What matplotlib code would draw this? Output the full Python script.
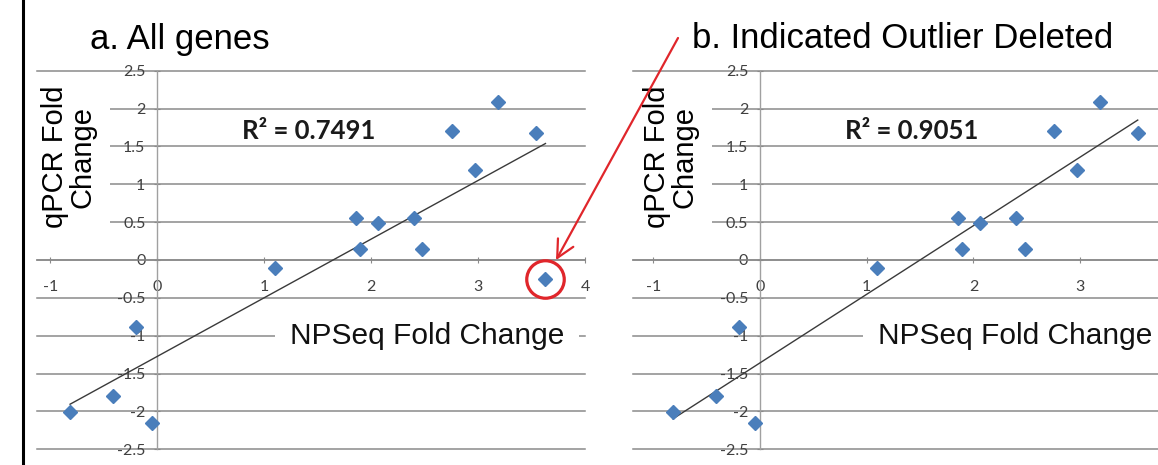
import matplotlib.pyplot as plt
from matplotlib.patches import ConnectionPatch
from matplotlib.lines import Line2D
import numpy as np

plt.rcParams['axes.unicode_minus'] = False

# NPSeq vs qPCR fold changes (last point = outlier)
npseq = [-0.815, -0.415, -0.195, -0.05, 1.097, 1.856, 1.896, 2.06, 2.40, 2.48,
         2.76, 2.97, 3.19, 3.54, 3.63]
qpcr = [-2.01, -1.80, -0.89, -2.15, -0.10, 0.56, 0.15, 0.486, 0.553, 0.15,
        1.70, 1.19, 2.085, 1.68, -0.256]
outlier = 14

y_ticks = [-2.5, -2, -1.5, -1, -0.5, 0, 0.5, 1, 1.5, 2, 2.5]
y_labels = ['-2.5', '-2', '-1.5', '-1', '-0.5', '0', '0.5', '1', '1.5', '2', '2.5']
x_ticks = [-1, 0, 1, 2, 3, 4]
x_labels = ['-1', '0', '1', '2', '3', '4']

titles = ['a. All genes', 'b. Indicated Outlier Deleted']
r2_labels = ['R\u00b2 = 0.7491', 'R\u00b2 = 0.9051']
ylabel = 'qPCR Fold\nChange'
xlabel = 'NPSeq Fold Change'

grid_col = '#8a8a8a'
marker_col = '#4a7ebb'
red = '#e0262b'
sans = 'Liberation Sans'

fig = plt.figure(figsize=(11.58, 4.65), dpi=100)
ax_a = fig.add_axes([0.0317, 0.0338, 0.4735, 0.8142])
ax_b = fig.add_axes([0.5469, 0.0338, 0.4531, 0.8142])

keep = [i for i in range(len(npseq)) if i != outlier]
panels = [
    (ax_a, npseq, qpcr, (-1.127, 4.0), 1.237),
    (ax_b, [npseq[i] for i in keep], [qpcr[i] for i in keep], (-1.187, 3.73), 1.109),
]

for k, (ax, xs, ys, xlim, xlab_x) in enumerate(panels):
    shown = [(t, l) for t, l in zip(x_ticks, x_labels) if t <= xlim[1]]
    ax.set_yticks(y_ticks, y_labels)
    ax.set_xticks([t for t, _ in shown], [l for _, l in shown])
    ax.set_xlim(*xlim)
    ax.set_ylim(-2.5, 2.5)
    ax.patch.set_visible(False)
    for s in ['top', 'right']:
        ax.spines[s].set_visible(False)
    ax.spines['left'].set_position(('data', 0))
    ax.spines['bottom'].set_position(('data', 0))
    ax.spines['left'].set_color('#a0a0a0')
    ax.spines['bottom'].set_color(grid_col)
    ax.spines['left'].set_linewidth(1.0)
    ax.spines['bottom'].set_linewidth(1.1)

    ax.tick_params(axis='y', direction='inout', length=5, width=0.8, color=grid_col,
                   pad=6, labelsize=11.5, labelcolor='#404040')
    ax.tick_params(axis='x', direction='inout', length=5, width=0.8, color=grid_col,
                   pad=12, labelsize=11.5, labelcolor='#404040')
    for lab in ax.get_xticklabels() + ax.get_yticklabels():
        lab.set_family('Lato')

    ax.yaxis.grid(True, color=grid_col, lw=1.1)
    ax.set_axisbelow(True)
    for gl in ax.get_ygridlines():
        gl.set_clip_on(False)

    ax.plot(xs, ys, 'D', ms=7.4, color=marker_col, zorder=4)
    m, c = np.polyfit(xs, ys, 1)
    fx = np.array([min(xs), max(xs)])
    ax.plot(fx, m * fx + c, color='#3a3a3a', lw=1.0, zorder=3)

    ax.text(1.42, 1.70, r2_labels[k], family='Lato', weight='bold', fontsize=18.5,
            ha='center', va='center', color='#1a1a1a')
    ax.text(xlab_x, -1.0, xlabel, family=sans, fontsize=21.5, ha='left', va='center',
            color='#111111', zorder=3,
            bbox=dict(boxstyle='square,pad=0.5', fc='white', ec='none'))

# panel titles and y-axis titles
fig.text(90 / 1158, 0.894, titles[0], family=sans, fontsize=25, ha='left', va='baseline')
fig.text(692 / 1158, 0.896, titles[1], family=sans, fontsize=25, ha='left', va='baseline')
for cx in [69, 671]:
    fig.text(cx / 1158, 1 - 157 / 465, ylabel, family=sans, fontsize=21, rotation=90,
             ha='center', va='center', multialignment='center', linespacing=1.0,
             bbox=dict(boxstyle='square,pad=0.45', fc='white', ec='none'))

# red circle + arrow marking the outlier
ax_a.plot(npseq[outlier], qpcr[outlier], 'o', ms=27, mfc='none', mec=red, mew=2.3,
          zorder=5, clip_on=False)
arrow = ConnectionPatch(xyA=(678, 427), coordsA='figure pixels',
                        xyB=(npseq[outlier], qpcr[outlier]), coordsB=ax_a.transData,
                        arrowstyle='->,head_length=0.7,head_width=0.35', mutation_scale=18,
                        color=red, lw=1.6, shrinkA=0, shrinkB=15.8, zorder=6)
fig.add_artist(arrow)

# black frame line on the left edge
fig.add_artist(Line2D([0.0199, 0.0199], [0.004, 1.0], transform=fig.transFigure,
                      color='black', lw=2.2))

fig.savefig('out.png', dpi=100)
